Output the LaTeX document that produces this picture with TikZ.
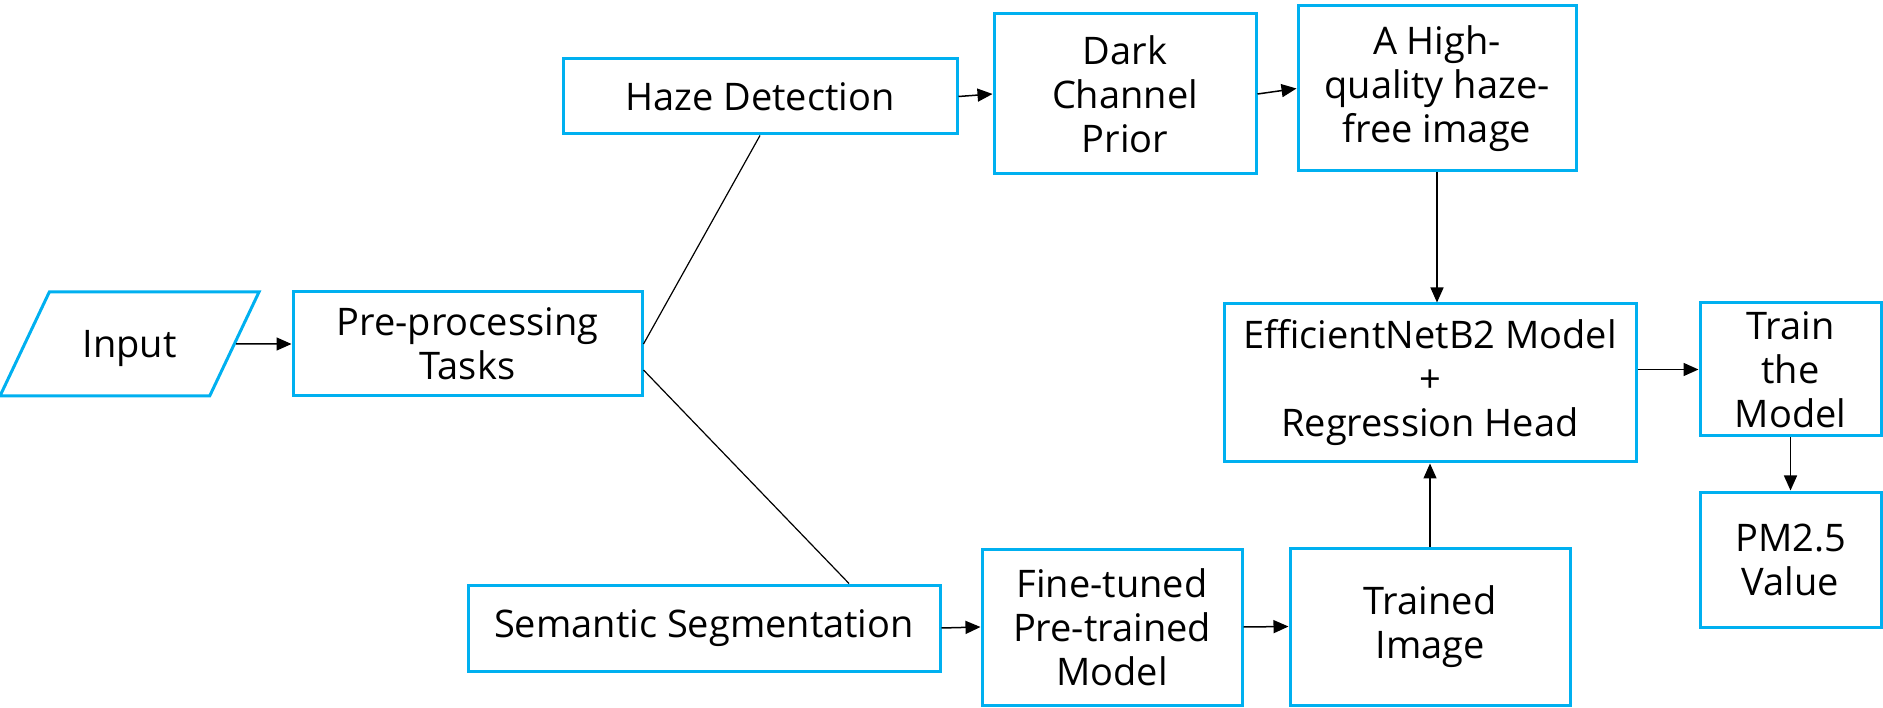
\documentclass[tikz,border=0pt]{standalone}
\usepackage{fontspec}
\setmainfont{Open Sans}
\usepackage{xcolor}
\usetikzlibrary{shapes.geometric, arrows.meta}
\definecolor{boxblue}{RGB}{0,176,240}

\begin{document}
\begin{tikzpicture}[x=1pt, y=-1pt,
    block/.style={draw=boxblue, line width=3pt, rectangle, align=center, inner sep=0pt,
        font=\fontsize{38}{44}\selectfont},
    arr/.style={-{Triangle[length=15pt, width=13pt]}, line width=1.5pt},
    link/.style={line width=1.2pt}]
    \useasboundingbox (0,0) rectangle (1883,708);

    % left part
    \node[block, trapezium, trapezium left angle=64, trapezium right angle=116,
        trapezium stretches body=true, inner xsep=0pt, inner ysep=37pt, text depth=0pt,
        minimum width=259pt, minimum height=104pt] (in) at (129.5,344) {Input};
    \node[block, minimum width=349pt, minimum height=104pt] (pre) at (467.5,344) {Pre-processing\\Tasks};

    % haze branch
    \node[block, minimum width=394pt, minimum height=75pt] (haze) at (760,96.5) {Haze Detection};
    \node[block, minimum width=262pt, minimum height=160pt] (dcp) at (1125,94) {Dark\\Channel\\Prior};
    \node[block, minimum width=278pt, minimum height=165pt] (clear) at (1437,88.5) {A High-\\quality haze-\\free image};

    % segmentation branch
    \node[block, minimum width=472pt, minimum height=86pt] (seg) at (704,628) {Semantic Segmentation};
    \node[block, minimum width=260pt, minimum height=156pt] (fine) at (1112,627) {Fine-tuned\\Pre-trained\\Model};
    \node[block, minimum width=280pt, minimum height=157pt] (trimg) at (1430,626.5) {Trained\\Image};

    % model
    \node[block, minimum width=412pt, minimum height=158pt] (net) at (1430,383) {EfficientNetB2 Model\\+\\Regression Head};
    \node[block, minimum width=181pt, minimum height=133pt] (train) at (1790.5,369.5) {Train\\the\\Model};
    \node[block, minimum width=181pt, minimum height=135pt] (pm) at (1790.5,559.5) {PM2.5\\Value};

    \draw[arr] (in.east) -- (pre.west);
    \draw[link] (pre.east) -- (haze.south);
    \draw[link] ([yshift=-26pt]pre.east) -- ([xshift=145pt]seg.north);
    \draw[arr] (haze.east) -- (dcp.west);
    \draw[arr] (dcp.east) -- (clear.west);
    \draw[arr] (seg.east) -- (fine.west);
    \draw[arr] (fine.east) -- (trimg.west);
    \draw[arr] (clear.south) -- (clear.south |- net.north);
    \draw[arr] (trimg.north) -- (net.south);
    \draw[arr] (net.east |- train) -- (train.west);
    \draw[arr] (train.south) -- (pm.north);
\end{tikzpicture}
\end{document}
